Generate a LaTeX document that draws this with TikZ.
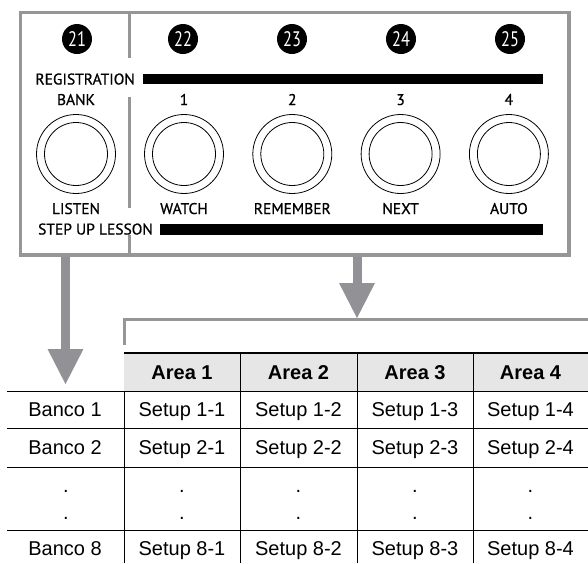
\documentclass[tikz,border=0pt]{standalone}
\usepackage{fontspec}
\setmainfont{Liberation Sans}
\newfontfamily\panelfont[FakeBold=0.8]{PT Sans}
\newfontfamily\numfont[FakeStretch=0.78]{PT Sans}
\usetikzlibrary{arrows.meta}
\definecolor{panelgray}{RGB}{150,150,150}
\definecolor{arrowgray}{RGB}{145,145,150}
\definecolor{headgray}{RGB}{230,230,230}
\tikzset{
  numdot/.style={
    circle,
    fill=black,
    text=white,
    inner sep=0pt,
    minimum size=30pt,
    font=\numfont\fontsize{21}{21}\selectfont
  },
  paneltext/.style={inner sep=0pt, anchor=base, font=\panelfont\fontsize{15.5}{15.5}\selectfont},
  knob/.style={circle, draw=black, line width=0.8pt, inner sep=0pt},
  bar/.style={fill=black, inner sep=0pt, anchor=west},
  cell/.style={inner sep=0pt, anchor=base, font=\fontsize{20}{20}\selectfont},
  headcell/.style={cell, font=\bfseries\fontsize{20}{20}\selectfont},
  bigarrow/.style={draw=arrowgray, line width=9pt, -{Triangle[length=36pt,width=33pt]}},
  rule/.style={draw=black, line width=1pt}
}

\begin{document}
\begin{tikzpicture}[x=1pt,y=-1pt]
        \useasboundingbox (0,0) rectangle (588,563);
        % control panel
        \node[draw=panelgray, line width=3.5pt, inner sep=0pt, minimum width=548.5pt, minimum height=242.5pt] (panel) at (294.75,133.75) {};
        \draw[panelgray, line width=3pt] (129,12.5) -- (129,58) (129,97) -- (129,208) (129,235) -- (129,255);
        \foreach \n/\x in {21/77,22/183,23/292,24/401,25/510}
          \node[numdot] (num\n) at (\x,39) {\n};
        \foreach \n/\x/\lbtop/\lbbot in {21/76/BANK/LISTEN,22/184/1/WATCH,23/292.3/2/REMEMBER,24/400.6/3/NEXT,25/508.9/4/AUTO} {
          \node[knob, minimum size=79pt] (knob\n) at (\x,154) {};
          \node[knob, minimum size=63pt] (knobin\n) at (knob\n) {};
          \node[paneltext] (top\n) at (\x,105) {\lbtop};
          \node[paneltext] (bot\n) at (\x,214) {\lbbot};
        }
        \node[paneltext, anchor=base east] (reg) at (135,84.5) {REGISTRATION};
        \node[bar, minimum width=400pt, minimum height=9.5pt] (regbar) at (143,79) {};
        \node[paneltext, anchor=base east] (step) at (153,234.5) {STEP UP LESSON};
        \node[bar, minimum width=383pt, minimum height=11pt] (stepbar) at (160,229.5) {};
        % arrows down to the table
        \coordinate (bankend) at (65.5,385);
        \coordinate (areaend) at (357,319);
        \draw[bigarrow] (panel.south -| bankend) -- (bankend);
        \draw[bigarrow] (panel.south -| areaend) -- (areaend);
        \draw[panelgray, line width=3pt] (124,345) -- (124,319) -- (588,319);
        % table
        \fill[headgray] (124,353) rectangle (588,391);
        \draw[line width=2.5pt] (124,353) -- (588,353);
        \foreach \y in {391,428,467,530}
          \draw[rule] (7,\y) -- (588,\y);
        \draw[rule] (124,391) -- (124,563);
        \foreach \x in {240.5,357,473}
          \draw[rule] (\x,352) -- (\x,563);
        \foreach \a/\x in {1/182,2/298.5,3/415,4/530.5}
          \node[headcell] (area\a) at (\x,379) {Area \a};
        \foreach \r/\y in {1/416.5,2/454.5,8/555} {
          \node[cell] (bank\r) at (65,\y) {Banco \r};
          \foreach \a/\x in {1/182,2/298.5,3/415,4/530.5}
            \node[cell] (setup\r\a) at (\x,\y) {Setup \r-\a};
        }
        \foreach \x [count=\c] in {66,182,298.5,415,530.5} {
          \node[cell] (dota\c) at (\x,492) {.};
          \node[cell] (dotb\c) at (\x,519) {.};
        }
      \end{tikzpicture}
\end{document}
